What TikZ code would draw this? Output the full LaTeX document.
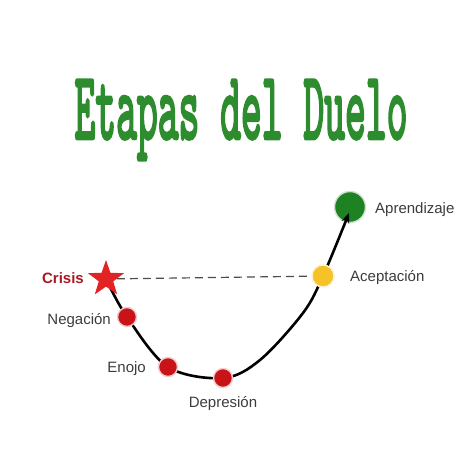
\documentclass[tikz,border=0pt]{standalone}
\usepackage{fontspec}
\setmainfont{Liberation Sans}
\newfontfamily\titlefont{Latin Modern Mono}[FakeBold=3.5]
\usetikzlibrary{shapes.geometric,arrows.meta}
\definecolor{titlegreen}{RGB}{45,140,45}
\definecolor{labelgray}{RGB}{60,60,60}
\definecolor{crisisred}{RGB}{170,25,35}
\definecolor{starred}{RGB}{225,35,35}
\definecolor{stagered}{RGB}{200,20,25}
\definecolor{stageyellow}{RGB}{245,195,40}
\definecolor{stagegreen}{RGB}{30,130,35}
\begin{document}
\begin{tikzpicture}[x=1pt,y=-1pt,
  stage/.style={circle,fill=#1,draw=#1!22!white,line width=1.4pt,inner sep=0pt,minimum size=19pt},
  lbl/.style={text=labelgray,inner sep=0pt,font=\fontsize{15}{15}\selectfont},
  curva/.style={line width=2.6pt,-{Stealth[length=10pt,width=8pt]}},
  guia/.style={black!70,line width=1.2pt,dash pattern=on 8pt off 5pt}]
  \useasboundingbox (0,0) rectangle (474,474);
  % title
  \node[text=titlegreen] (titulo) at (241,120)
    {\resizebox*{333pt}{80pt}{\titlefont Etapas del Duelo}};
  % points of the curve
  \coordinate (c0) at (106,279);
  \coordinate (c1) at (127,317);
  \coordinate (c2) at (168,367);
  \coordinate (c3) at (223,378);
  \coordinate (m1) at (260,360);
  \coordinate (m2) at (303,313);
  \coordinate (c4) at (323,276);
  \coordinate (c5) at (350,207);
  \coordinate (tip) at (349,213);
  \node[stage=stagegreen,minimum size=31pt] (apr) at (c5) {};
  \draw[curva] plot[smooth,tension=0.55] coordinates {(c0) (c1) (c2) (c3) (m1) (m2) (c4) (tip)};
  \node[star,star points=5,star point ratio=2.5,fill=starred,inner sep=0pt,minimum size=38pt] (crisis) at (c0) {};
  \node[stage=stagered] (neg) at (c1) {};
  \node[stage=stagered] (eno) at (c2) {};
  \node[stage=stagered] (dep) at (c3) {};
  \node[stage=stageyellow,minimum size=22pt] (acep) at (c4) {};
  \draw[guia] (crisis) -- (acep);
  % labels
  \node[lbl,anchor=base east,text=crisisred,font=\fontsize{15}{15}\selectfont\bfseries] (tcrisis) at (84,283) {Crisis};
  \node[lbl,anchor=base east] (tneg) at (111,324) {Negación};
  \node[lbl,anchor=base east] (teno) at (146,372) {Enojo};
  \node[lbl,anchor=base] (tdep) at (223,407) {Depresión};
  \node[lbl,anchor=base west] (tacep) at (350,281) {Aceptación};
  \node[lbl,anchor=base west] (tapr) at (375,213) {Aprendizaje};
\end{tikzpicture}
\end{document}
